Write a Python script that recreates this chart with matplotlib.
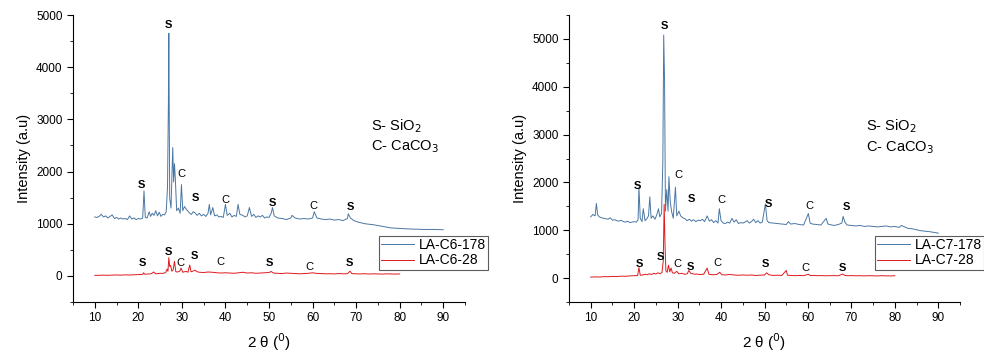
import matplotlib
matplotlib.use("Agg")
import matplotlib.pyplot as plt
import numpy as np
from matplotlib.ticker import MultipleLocator, AutoMinorLocator

plt.rcParams['font.family'] = ['Liberation Sans', 'DejaVu Sans']

# ---- data (2 theta, intensity) ----
c6_178 = [(10, 1130), (10.5, 1120), (11, 1140), (11.5, 1180), (12, 1130), (12.5, 1150), (13, 1110),
          (13.5, 1140), (14, 1170), (14.5, 1100), (15, 1120), (15.5, 1090), (16, 1110), (16.5, 1090),
          (17, 1100), (17.5, 1080), (18, 1150), (18.5, 1090), (19, 1110), (19.5, 1080), (20, 1100),
          (20.5, 1090), (21, 1110), (21.3, 1630), (21.6, 1120), (22, 1110), (22.5, 1230), (22.8, 1140),
          (23.2, 1200), (23.6, 1160), (24, 1250), (24.4, 1150), (24.8, 1220), (25.2, 1140), (25.6, 1180),
          (26, 1170), (26.4, 1230), (26.7, 1700), (26.9, 3300), (27.0, 4650), (27.2, 1500), (27.5, 1300),
          (27.9, 2460), (28.1, 1800), (28.3, 2150), (28.5, 1850), (28.8, 1250), (29.2, 1300), (29.6, 1200),
          (29.9, 1750), (30.2, 1250), (30.6, 1330), (31.0, 1280), (31.4, 1240), (31.8, 1200), (32.2, 1180),
          (32.6, 1230), (33.0, 1210), (33.5, 1160), (34, 1200), (34.5, 1150), (35, 1180), (35.5, 1140),
          (36, 1200), (36.3, 1370), (36.6, 1170), (37.1, 1310), (37.5, 1150), (38, 1170), (38.5, 1130),
          (39, 1140), (39.5, 1120), (40.0, 1370), (40.4, 1160), (41, 1200), (41.5, 1130), (42, 1160),
          (42.5, 1140), (42.9, 1370), (43.3, 1180), (44, 1160), (44.5, 1130), (45, 1150), (45.5, 1310),
          (46, 1140), (46.5, 1180), (47, 1120), (47.5, 1150), (48, 1130), (48.5, 1160), (49, 1110),
          (49.5, 1130), (50, 1120), (50.5, 1200), (50.8, 1310), (51.2, 1150), (52, 1110), (53, 1100),
          (54, 1080), (55, 1110), (55.3, 1160), (56, 1110), (57, 1090), (58, 1100), (59, 1090), (60, 1110),
          (60.4, 1230), (61, 1110), (62, 1090), (63, 1080), (64, 1090), (65, 1070), (66, 1080), (67, 1060),
          (68, 1100), (68.2, 1190), (68.7, 1110), (69.5, 1060), (70.5, 1030), (72, 1000), (74, 980),
          (76, 950), (78, 920), (80, 910), (82, 900), (84, 895), (86, 890), (88, 890), (90, 885)]

c6_28 = [(10, 10), (11, 12), (12, 14), (13, 11), (14, 16), (15, 18), (16, 15), (17, 20), (18, 17), (19, 22),
         (20, 25), (20.5, 28), (21, 30), (21.2, 60), (21.5, 32), (22, 35), (22.5, 38), (23, 42), (23.5, 75),
         (24, 40), (24.5, 45), (25, 50), (25.5, 48), (26, 55), (26.3, 70), (26.6, 130), (26.8, 90),
         (27.0, 350), (27.2, 180), (27.4, 200), (27.7, 90), (28.0, 120), (28.3, 280), (28.6, 80), (29, 75),
         (29.5, 90), (29.8, 150), (30.2, 70), (30.6, 80), (31, 85), (31.4, 70), (31.8, 210), (32.1, 80),
         (32.5, 90), (33, 110), (33.5, 80), (34, 70), (35, 65), (36, 75), (37, 70), (38, 60), (39, 55),
         (40, 60), (41, 55), (42, 50), (43, 60), (44, 70), (45, 55), (46, 60), (47, 50), (48, 55), (49, 60),
         (50, 65), (50.5, 85), (51, 55), (52, 50), (53, 45), (54, 55), (55, 50), (56, 45), (57, 40), (58, 45),
         (59, 50), (60, 60), (61, 48), (62, 45), (63, 40), (64, 42), (65, 38), (66, 45), (67, 40), (68, 42),
         (68.6, 90), (69, 45), (70, 40), (71, 38), (72, 42), (73, 36), (74, 40), (75, 38), (76, 35), (77, 40),
         (78, 37), (79, 35), (80, 38)]

c7_178 = [(10, 1280), (10.5, 1330), (11, 1300), (11.3, 1560), (11.6, 1320), (12, 1280), (12.5, 1260),
          (13, 1250), (13.5, 1240), (14, 1230), (14.5, 1260), (15, 1210), (15.5, 1220), (16, 1200),
          (16.5, 1190), (17, 1210), (17.5, 1180), (18, 1170), (18.5, 1190), (19, 1160), (19.5, 1170),
          (20, 1180), (20.5, 1170), (20.9, 1220), (21.1, 1900), (21.4, 1250), (21.8, 1180), (22.1, 1450),
          (22.5, 1200), (23, 1250), (23.3, 1300), (23.6, 1700), (23.9, 1250), (24.3, 1300), (24.8, 1230),
          (25.3, 1350), (25.6, 1450), (25.9, 1280), (26.3, 1350), (26.6, 2420), (26.8, 5080), (27.0, 4100),
          (27.2, 1400), (27.5, 1850), (27.8, 1400), (28.0, 2120), (28.3, 1600), (28.6, 1400), (29.0, 1250),
          (29.5, 1900), (29.8, 1300), (30.3, 1400), (30.7, 1300), (31.2, 1260), (31.7, 1240), (32.2, 1200),
          (32.7, 1230), (33.2, 1190), (33.7, 1220), (34.2, 1180), (34.7, 1210), (35.2, 1200), (35.7, 1230),
          (36.2, 1180), (36.8, 1300), (37.3, 1190), (37.8, 1220), (38.3, 1160), (38.8, 1200), (39.3, 1150),
          (39.6, 1450), (40.0, 1200), (40.5, 1150), (41, 1140), (41.5, 1170), (42, 1150), (42.5, 1250),
          (43, 1170), (43.5, 1220), (44, 1140), (44.5, 1160), (45, 1150), (45.5, 1170), (46, 1200),
          (46.5, 1150), (47, 1180), (47.5, 1230), (48, 1160), (48.5, 1200), (49, 1150), (49.5, 1170),
          (50.2, 1550), (50.6, 1200), (51, 1160), (52, 1150), (53, 1140), (54, 1130), (55, 1120), (55.5, 1180),
          (56, 1130), (57, 1140), (58, 1120), (59, 1110), (60.1, 1350), (60.5, 1150), (61, 1130), (62, 1120),
          (63, 1110), (64.2, 1250), (64.6, 1130), (65, 1120), (66, 1100), (67, 1120), (67.8, 1150),
          (68.1, 1290), (68.5, 1170), (69, 1110), (70, 1100), (71, 1090), (72, 1100), (73, 1080), (74, 1090),
          (75, 1080), (76, 1070), (77, 1080), (78, 1090), (79, 1070), (80, 1080), (81, 1060), (81.5, 1100),
          (82, 1080), (83, 1040), (84, 1030), (85, 1010), (86, 990), (87, 980), (88, 970), (89, 955), (90, 940)]

c7_28 = [(10, 20), (11, 25), (12, 22), (13, 30), (14, 28), (15, 35), (16, 32), (17, 40), (18, 38), (19, 45),
         (20, 50), (20.8, 55), (21.1, 220), (21.4, 60), (22, 65), (22.5, 80), (23, 70), (23.5, 90), (24, 75),
         (24.5, 100), (25, 85), (25.5, 110), (26, 90), (26.4, 120), (26.7, 360), (26.9, 1540), (27.1, 700),
         (27.3, 150), (27.6, 120), (27.9, 270), (28.2, 130), (28.5, 210), (28.8, 110), (29.2, 100),
         (29.8, 140), (30.3, 90), (31, 100), (31.6, 80), (32.2, 90), (32.6, 160), (33, 100), (33.5, 90),
         (34, 80), (34.5, 85), (35, 75), (36, 80), (36.8, 210), (37.2, 80), (38, 70), (39, 75), (39.7, 120),
         (40.2, 70), (41, 65), (42, 75), (43, 65), (44, 60), (45, 65), (46, 60), (47, 65), (48, 55), (49, 60),
         (50, 65), (50.5, 110), (51, 70), (52, 55), (53, 60), (54, 55), (55, 160), (55.3, 60), (56, 55),
         (57, 50), (58, 55), (59, 50), (60.1, 80), (60.6, 50), (61, 55), (62, 50), (63, 52), (64, 48),
         (65, 50), (66, 52), (67, 48), (68, 85), (68.5, 55), (69, 50), (70, 52), (71, 48), (72, 50), (73, 46),
         (74, 50), (75, 48), (76, 45), (77, 50), (78, 47), (79, 45), (80, 50)]

# peak labels (2 theta, intensity, phase)
c6_labels = [(20.7, 1740, 'S'), (27.0, 4800, 'S'), (30.0, 1945, 'C'), (33.1, 1490, 'S'), (40.0, 1450, 'C'),
             (50.8, 1390, 'S'), (60.3, 1345, 'C'), (68.8, 1325, 'S'),
             (20.9, 240, 'S'), (26.9, 460, 'S'), (29.6, 240, 'C'), (32.9, 380, 'S'), (38.9, 260, 'C'),
             (50.0, 240, 'S'), (59.2, 175, 'C'), (68.5, 240, 'S')]
c7_labels = [(20.7, 1935, 'S'), (26.9, 5260, 'S'), (30.2, 2158, 'C'), (33.1, 1657, 'S'), (40.0, 1622, 'C'),
             (51.0, 1553, 'S'), (60.3, 1504, 'C'), (68.9, 1483, 'S'),
             (21.1, 300, 'S'), (26.0, 440, 'S'), (29.9, 300, 'C'), (33.0, 230, 'S'), (39.1, 320, 'C'),
             (50.2, 300, 'S'), (59.4, 217, 'C'), (68.0, 217, 'S')]

blue = '#4a77a3'
red = '#e0191e'

fig = plt.figure(figsize=(9.84, 3.54), dpi=100)
ax1 = fig.add_axes([73 / 984, 1 - 302 / 354, 392 / 984, 287 / 354])
ax2 = fig.add_axes([569 / 984, 1 - 302 / 354, 391 / 984, 287 / 354])

panels = [
    (ax1, c6_178, c6_28, 'LA-C6-178', 'LA-C6-28', c6_labels, (-500, 5000), (2873, 2476), 379),
    (ax2, c7_178, c7_28, 'LA-C7-178', 'LA-C7-28', c7_labels, (-500, 5500), (3167, 2735), 875),
]

for ax, hi, lo, hi_name, lo_name, labels, ylim, key_y, leg_x in panels:
    hx, hy = np.array(hi).T
    lx, ly = np.array(lo).T
    l1, = ax.plot(hx, hy, color=blue, lw=0.7)
    l2, = ax.plot(lx, ly, color=red, lw=0.7)

    for x, y, t in labels:
        ax.text(x, y, t, ha='center', va='center', fontsize=8,
                fontweight='bold' if t == 'S' else 'normal')

    ax.text(73.4, key_y[0], r'S- SiO$_2$', fontsize=10.5, va='center', ha='left')
    ax.text(73.4, key_y[1], r'C- CaCO$_3$', fontsize=10.5, va='center', ha='left')

    ax.set_xlim(5, 95)
    ax.set_ylim(*ylim)
    ax.xaxis.set_major_locator(MultipleLocator(10))
    ax.xaxis.set_minor_locator(AutoMinorLocator(2))
    ax.yaxis.set_major_locator(MultipleLocator(1000))
    ax.yaxis.set_minor_locator(AutoMinorLocator(2))
    ax.set_xticks(range(10, 100, 10))
    ax.spines['top'].set_visible(False)
    ax.spines['right'].set_visible(False)
    ax.tick_params(which='major', direction='out', length=4, labelsize=8.5)
    ax.tick_params(which='minor', direction='out', length=2.5)
    ax.set_xlabel(r'2 θ ($^0$)', fontsize=11, labelpad=5)
    ax.set_ylabel('Intensity (a.u)', fontsize=10.5, labelpad=4)

    leg = ax.legend([l1, l2], [hi_name, lo_name], loc='upper left',
                    bbox_to_anchor=(leg_x / 984, 1 - 236 / 354), bbox_transform=fig.transFigure,
                    fontsize=10, frameon=True, fancybox=False, handlelength=2.4,
                    handletextpad=0.3, borderpad=0.15, labelspacing=0.1, borderaxespad=0)
    leg.get_frame().set_edgecolor('#333333')
    leg.get_frame().set_linewidth(0.8)

fig.savefig('out.png', dpi=100)
